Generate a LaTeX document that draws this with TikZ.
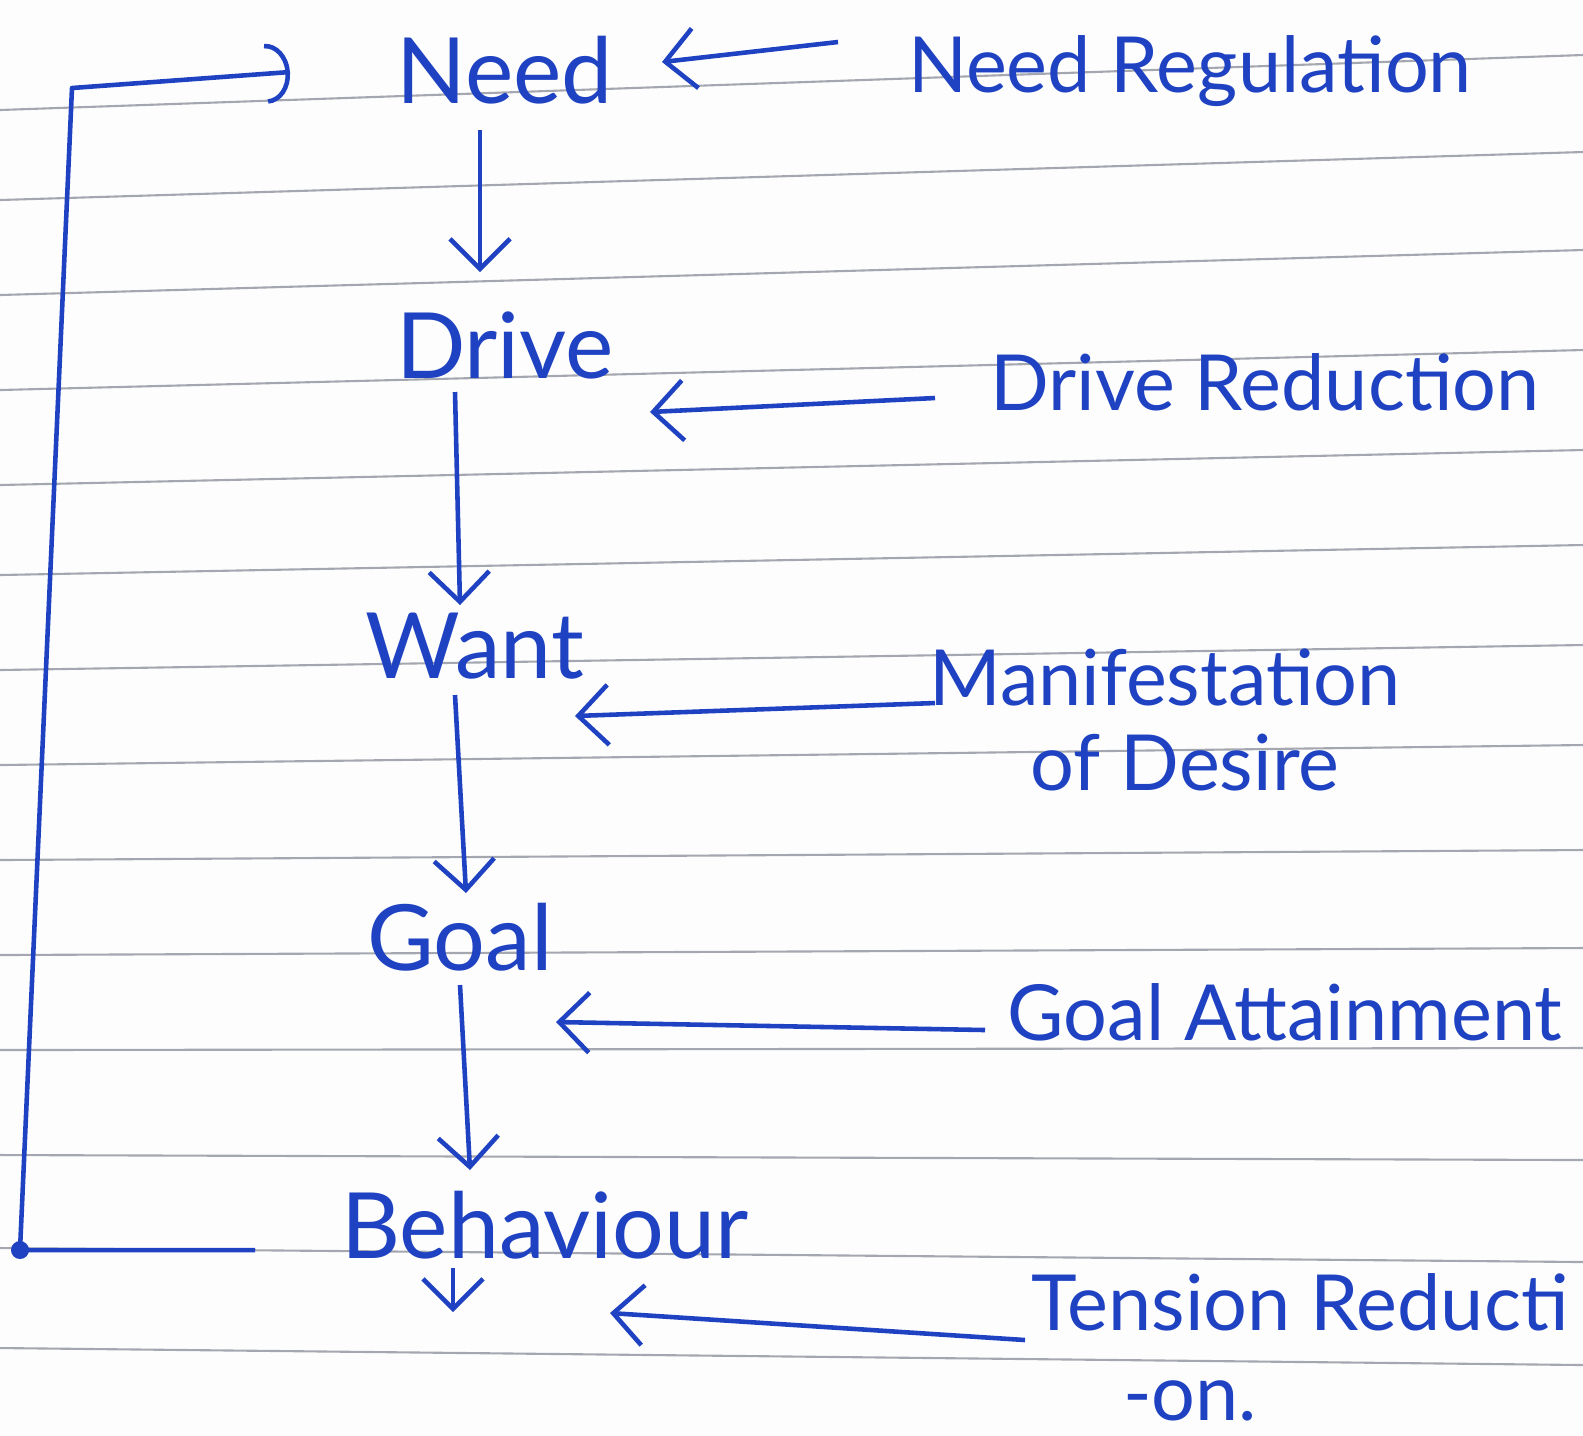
\documentclass[tikz,border=0pt]{standalone}
\usepackage{fontspec}
\setmainfont{Lato}
\usetikzlibrary{arrows.meta, calc}
\definecolor{ink}{HTML}{1F42C2}
\definecolor{paperline}{HTML}{A4A7B0}
\definecolor{paper}{HTML}{FDFDFD}
\tikzset{
  word/.style={anchor=base, inner sep=0pt, text=ink, font=\fontsize{26}{30}\selectfont},
  gloss/.style={word, font=\fontsize{22}{26}\selectfont},
  flow/.style={-{Straight Barb[length=3mm, width=6mm]}, line width=1.3pt, draw=ink},
  back/.style={-{Arc Barb[length=2.4mm, width=6mm]}, line width=1.3pt, draw=ink,
               line join=round},
  ruling/.style={line width=0.6pt, draw=paperline},
}

\begin{document}
\begin{tikzpicture}[x=0.01cm, y=-0.01cm]
\fill[paper] (0,0) rectangle (1583,1435);
\useasboundingbox (0,0) rectangle (1583,1435);

% Ruled paper
\foreach \yl/\yr in {110/55, 200/152, 295/250, 390/350, 485/450, 575/545,
                     670/645, 765/745, 860/850, 955/948, 1050/1048,
                     1155/1160, 1248/1262, 1348/1365}
  \draw[ruling] (0,\yl) -- (1583,\yr);

% Chain on the left
\node[word] (need)  at (505,103)  {Need};
\node[word] (drive) at (505,378)  {Drive};
\node[word] (want)  at (475,678)  {Want};
\node[word] (goal)  at (460,970)  {Goal};
\node[word] (beh)   at (545,1258) {Behaviour};

% Glosses on the right
\node[gloss] (needreg)  at (1190,92)   {Need Regulation};
\node[gloss] (drivered) at (1265,410)  {Drive Reduction};
\node[gloss] (manif)    at (1165,705)  {Manifestation};
\node[gloss] (manifb)   at (1185,790)  {of Desire};
\node[gloss] (goalatt)  at (1285,1040) {Goal Attainment};
\node[gloss] (tension)  at (1300,1330) {Tension Reducti};
\node[gloss] (tensionb) at (1190,1420) {-on.};

% Flow down
\draw[flow] ($(need.base)+(-25,27)$) -- ($(drive.base)+(-25,-106)$);
\draw[flow] ($(drive.base)+(-50,14)$) -- ($(want.base)+(-15,-73)$);
\draw[flow] ($(want.base)+(-20,17)$) -- ($(goal.base)+(6,-77)$);
\draw[flow] ($(goal.base)+(0,15)$) -- ($(beh.base)+(-75,-88)$);
\coordinate (behout) at (453,1312);
\draw[flow] ($(beh.base)+(-92,10)$) -- (behout);

% Glosses point back
\draw[flow] ($(needreg.base)+(-352,-50)$) -- ($(need.base)+(157,-41)$);
\draw[flow] ($(drivered.base)+(-330,-12)$) -- ($(drive.base)+(145,34)$);
\draw[flow] ($(manif.base)+(-230,-2)$) -- ($(want.base)+(100,38)$);
\draw[flow] ($(goalatt.base)+(-300,-10)$) -- ($(goal.base)+(96,52)$);
\draw[flow] ($(tension.base)+(-275,10)$) -- ($(beh.base)+(65,55)$);

% Feedback loop
\coordinate (loopbot) at (20,1250);
\coordinate (looptop) at (72,88);
\draw[back] ($(beh.base)+(-290,-8)$) -- (loopbot) -- (looptop)
  -- ($(need.base)+(-215,-31)$);
\fill[ink] (loopbot) circle (9);

\end{tikzpicture}
\end{document}
